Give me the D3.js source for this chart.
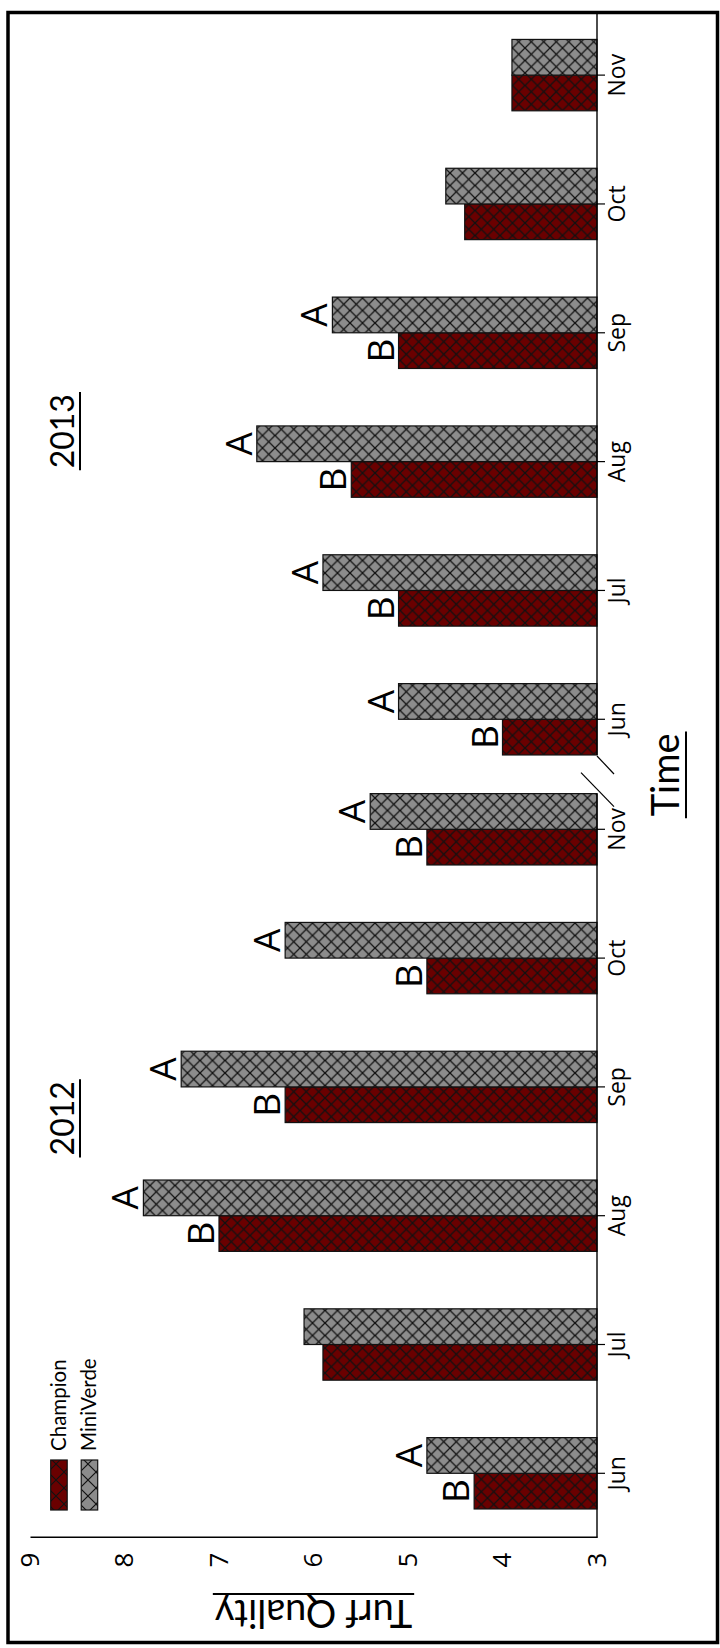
<!DOCTYPE html>
<html>
<head>
<meta charset="utf-8">
<script src="https://cdn.jsdelivr.net/npm/d3@7"></script>
<style>
  html, body { margin: 0; padding: 0; background: #fff; }
  svg { display: block; }
</style>
</head>
<body>
<svg id="chart" width="720" height="1648"></svg>
<script>
// Turf quality ratings by month for two bermudagrass cultivars
const months2012 = ["Jun", "Jul", "Aug", "Sep", "Oct", "Nov"];
const months2013 = ["Jun", "Jul", "Aug", "Sep", "Oct", "Nov"];
const varieties = ["Champion", "MiniVerde"];
const champion2012 = [4.3, 5.9, 7.0, 6.3, 4.8, 4.8];
const miniverde2012 = [4.8, 6.1, 7.8, 7.4, 6.3, 5.4];
const champion2013 = [4.0, 5.1, 5.6, 5.1, 4.4, 3.9];
const miniverde2013 = [5.1, 5.9, 6.6, 5.8, 4.6, 3.9];
// mean separation letters (blank = no significant difference)
const letters2012Champion = ["B", "", "B", "B", "B", "B"];
const letters2012MiniVerde = ["A", "", "A", "A", "A", "A"];
const letters2013Champion = ["B", "B", "B", "B", "", ""];
const letters2013MiniVerde = ["A", "A", "A", "A", "", ""];
const yTicks = [3, 4, 5, 6, 7, 8, 9];
const years = ["2012", "2013"];

const colors = { Champion: "#6a0000", MiniVerde: "#8c8c8c" };

const svg = d3.select("#chart");
const defs = svg.append("defs");

function hatch(id, fill, size) {
  const p = defs.append("pattern")
    .attr("id", id)
    .attr("patternUnits", "userSpaceOnUse")
    .attr("width", size).attr("height", size);
  p.append("rect").attr("width", size).attr("height", size).attr("fill", fill);
  p.append("path")
    .attr("d", `M0,0L${size},${size}M${size},0L0,${size}`)
    .attr("stroke", "#111").attr("stroke-width", 1.2).attr("fill", "none");
}
hatch("hatch-Champion", colors.Champion, 12.5);
hatch("hatch-MiniVerde", colors.MiniVerde, 12.5);
hatch("legend-Champion", colors.Champion, 16);
hatch("legend-MiniVerde", colors.MiniVerde, 16);

// the figure is laid out sideways: draw in a 1648 x 720 frame, then turn it
const g = svg.append("g").attr("transform", "translate(0,1648) rotate(-90)");

const y = d3.scaleLinear().domain([3, 9]).range([597, 30]);

const x2012 = d3.scaleBand().domain(months2012)
  .range([110.3, 883.1]).paddingInner(0.446).paddingOuter(0.223);
const x2013 = d3.scaleBand().domain(months2013)
  .range([864.3, 1637.3]).paddingInner(0.446).paddingOuter(0.223);

const panels = [
  { year: years[0], x: x2012, months: months2012,
    values: { Champion: champion2012, MiniVerde: miniverde2012 },
    letters: { Champion: letters2012Champion, MiniVerde: letters2012MiniVerde } },
  { year: years[1], x: x2013, months: months2013,
    values: { Champion: champion2013, MiniVerde: miniverde2013 },
    letters: { Champion: letters2013Champion, MiniVerde: letters2013MiniVerde } }
];

const xAxisLeft = x2012.range()[0];
const plotRight = 1636;

panels.forEach(panel => {
  const inner = d3.scaleBand().domain(varieties).range([0, panel.x.bandwidth()]);
  const rows = [];
  panel.months.forEach((m, i) => {
    varieties.forEach(v => {
      rows.push({ month: m, variety: v, value: panel.values[v][i], letter: panel.letters[v][i] });
    });
  });

  const grp = g.append("g").attr("class", "panel-" + panel.year);

  grp.selectAll("rect.bar").data(rows).join("rect")
    .attr("class", "bar")
    .attr("x", d => panel.x(d.month) + inner(d.variety))
    .attr("y", d => y(d.value))
    .attr("width", inner.bandwidth())
    .attr("height", d => y(3) - y(d.value))
    .attr("fill", d => `url(#hatch-${d.variety})`)
    .attr("stroke", "#111").attr("stroke-width", 1.2);

  grp.selectAll("text.letter").data(rows.filter(d => d.letter)).join("text")
    .attr("class", "letter")
    .attr("x", d => panel.x(d.month) + inner(d.variety) + inner.bandwidth() / 2)
    .attr("y", d => y(d.value) - 5)
    .attr("text-anchor", "middle")
    .attr("font-family", "'Open Sans', sans-serif")
    .attr("font-size", 37)
    .attr("fill", "#000")
    .text(d => d.letter);

  const ax = g.append("g")
    .attr("transform", `translate(0,${y(3)})`)
    .call(d3.axisBottom(panel.x).tickSize(8).tickPadding(4));
  ax.select(".domain").remove();
  ax.selectAll(".tick line").attr("stroke", "#000").attr("stroke-width", 1.2);
  ax.selectAll(".tick text")
    .attr("font-family", "'Open Sans', sans-serif")
    .attr("font-size", 23)
    .attr("fill", "#000");
});

// category axis baselines with a break between the two seasons
const end2012 = x2012(months2012[months2012.length - 1]) + x2012.bandwidth();
const start2013 = x2013(months2013[0]);
g.append("line")
  .attr("x1", xAxisLeft).attr("x2", end2012)
  .attr("y1", y(3)).attr("y2", y(3))
  .attr("stroke", "#000").attr("stroke-width", 1.4);
g.append("line")
  .attr("x1", start2013).attr("x2", plotRight)
  .attr("y1", y(3)).attr("y2", y(3))
  .attr("stroke", "#000").attr("stroke-width", 1.4);
g.append("line")
  .attr("x1", start2013 - 1).attr("y1", y(3))
  .attr("x2", start2013 - 19).attr("y2", y(3) + 17)
  .attr("stroke", "#000").attr("stroke-width", 1.2);
g.append("line")
  .attr("x1", end2012 + 21).attr("y1", y(3) - 16)
  .attr("x2", end2012 - 13).attr("y2", y(3) + 17)
  .attr("stroke", "#000").attr("stroke-width", 1.2);

// value axis
const yAx = g.append("g")
  .attr("transform", `translate(${xAxisLeft},0)`)
  .call(d3.axisLeft(y).tickValues(yTicks).tickSize(0).tickPadding(15).tickFormat(d3.format("d")));
yAx.select(".domain").attr("stroke", "#000").attr("stroke-width", 1.4);
yAx.selectAll(".tick text")
  .attr("font-family", "'Open Sans', sans-serif")
  .attr("font-size", 26)
  .attr("fill", "#000");

// underlined label helper
function underlined(parent, txt, size, cx, baseline, gap, rotate) {
  const wrap = parent.append("g")
    .attr("transform", `translate(${cx},${baseline})` + (rotate ? ` rotate(${rotate})` : ""));
  const t = wrap.append("text")
    .attr("text-anchor", "middle")
    .attr("font-family", "Lato, 'Open Sans', sans-serif")
    .attr("font-size", size)
    .attr("fill", "#000")
    .text(txt);
  const len = t.node().getComputedTextLength();
  wrap.append("line")
    .attr("x1", -len / 2 - 2).attr("x2", len / 2 + 2)
    .attr("y1", gap).attr("y2", gap)
    .attr("stroke", "#000").attr("stroke-width", 2);
}

underlined(g, "Turf Quality", 38, 48, y(6.0) + 0, 6, -90);
underlined(g, "Time", 38, (xAxisLeft + plotRight) / 2, 679, 7, 0);
underlined(g, years[0], 32, d3.mean(x2012.range()) + 33, 73.5, 6.5, 0);
underlined(g, years[1], 32, d3.mean(x2013.range()) - 34, 73.5, 6.5, 0);

// legend
const legend = g.append("g").attr("class", "legend");
varieties.forEach((v, i) => {
  const cy = 58.7 + i * 30.5;
  legend.append("rect")
    .attr("x", 138).attr("y", cy - 8)
    .attr("width", 50).attr("height", 16.5)
    .attr("fill", `url(#legend-${v})`)
    .attr("stroke", "#111").attr("stroke-width", 1.2);
  legend.append("text")
    .attr("x", 197).attr("y", cy + 7)
    .attr("font-family", "Lato, 'Open Sans', sans-serif")
    .attr("font-size", 20.5)
    .attr("fill", "#000")
    .text(v);
});

// frame
svg.append("rect")
  .attr("x", 8).attr("y", 12.5)
  .attr("width", 709.5).attr("height", 1630)
  .attr("fill", "none")
  .attr("stroke", "#000").attr("stroke-width", 3.5);
</script>
</body>
</html>
